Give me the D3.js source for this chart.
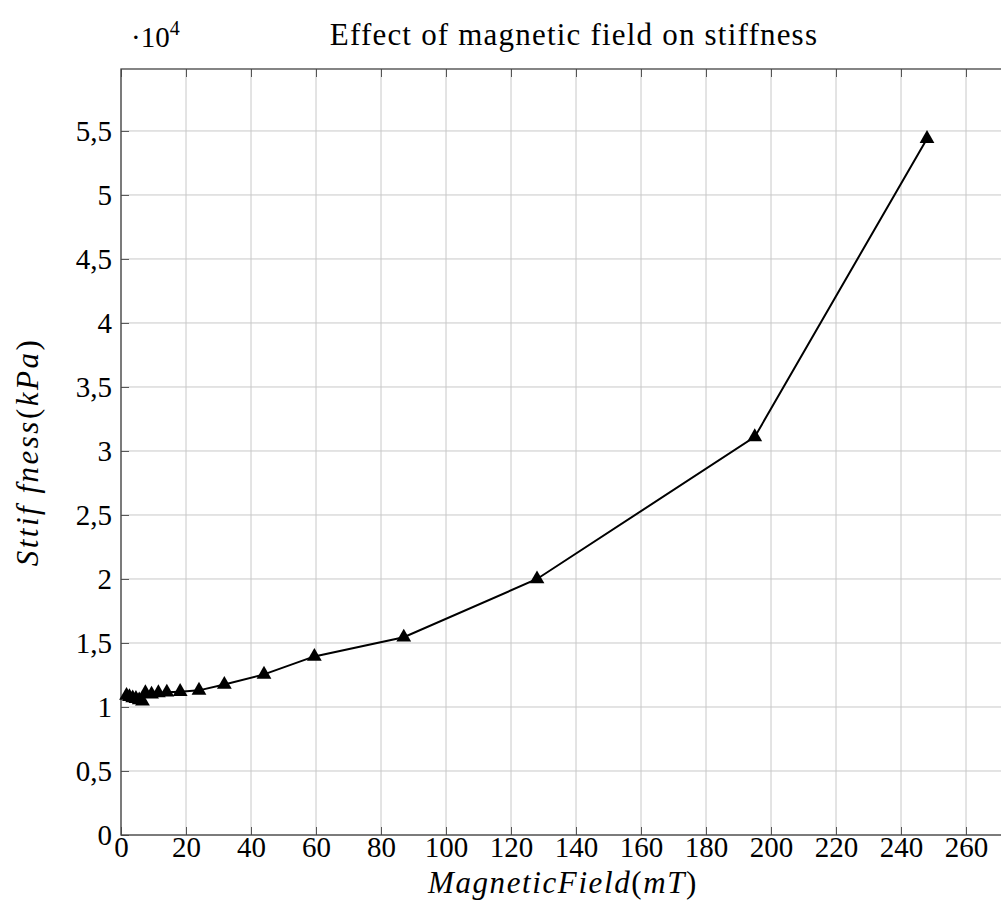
<!DOCTYPE html>
<html>
<head>
<meta charset="utf-8">
<script src="https://cdn.jsdelivr.net/npm/d3@7"></script>
<style>
  body { margin: 0; background: #fff; }
  text { font-family: "Liberation Serif", "DejaVu Serif", serif; fill: #000; }
</style>
</head>
<body>
<div id="chart"></div>
<script>
// Magnetic field (mT) and stiffness (x10^4 kPa)
const field = [1.7, 2.6, 3.6, 4.6, 5.6, 6.6, 7.5, 9.4, 11.5, 14.1, 18.2, 24, 31.8, 44, 59.5, 87, 128, 195, 248];
const stiffness = [1.09, 1.08, 1.07, 1.065, 1.055, 1.045, 1.11, 1.10, 1.11, 1.115, 1.12, 1.13, 1.175, 1.255, 1.395, 1.545, 2.0, 3.11, 5.44];
const xTicks = [0, 20, 40, 60, 80, 100, 120, 140, 160, 180, 200, 220, 240, 260];
const yTicks = [0, 0.5, 1, 1.5, 2, 2.5, 3, 3.5, 4, 4.5, 5, 5.5];

const data = field.map((f, i) => ({ x: f, y: stiffness[i] }));

const margin = { top: 69, left: 121 };
const W = 1001, H = 922;
const xMax = 248 * 1.1;
const yMax = 5.44 * 1.1;
const width = xMax * 3.25;
const height = 835 - margin.top;

const svg = d3.select("#chart")
  .append("svg")
  .attr("width", W)
  .attr("height", H);

const g = svg.append("g")
  .attr("transform", `translate(${margin.left},${margin.top})`);

const x = d3.scaleLinear().domain([0, xMax]).range([0, width]);
const y = d3.scaleLinear().domain([0, yMax]).range([height, 0]);

// grid
g.append("g")
  .selectAll("line")
  .data(xTicks)
  .enter()
  .append("line")
  .attr("x1", d => x(d)).attr("x2", d => x(d))
  .attr("y1", 0).attr("y2", height)
  .attr("stroke", "#c8c8c8").attr("stroke-width", 1);

g.append("g")
  .selectAll("line")
  .data(yTicks)
  .enter()
  .append("line")
  .attr("x1", 0).attr("x2", width)
  .attr("y1", d => y(d)).attr("y2", d => y(d))
  .attr("stroke", "#c8c8c8").attr("stroke-width", 1);

// axes, ticks pointing inward, on both sides
const fmt = d => String(d).replace(".", ",");

const xAxis = g.append("g")
  .attr("transform", `translate(0,${height})`)
  .call(d3.axisBottom(x).tickValues(xTicks).tickSize(-8).tickPadding(1).tickFormat(fmt));

const xTop = g.append("g")
  .call(d3.axisTop(x).tickValues(xTicks).tickSize(-8).tickFormat(""));

const yAxis = g.append("g")
  .call(d3.axisLeft(y).tickValues(yTicks).tickSize(-8).tickPadding(9).tickFormat(fmt));

[xAxis, xTop, yAxis].forEach(a => {
  a.select(".domain").remove();
  a.selectAll(".tick line").attr("stroke", "#555").attr("stroke-width", 1);
  a.selectAll("text")
    .style("font-family", "'Liberation Serif', serif")
    .style("font-size", "29px");
});
xAxis.selectAll("text").attr("dy", "0.71em");

// frame
g.append("rect")
  .attr("x", 0).attr("y", 0)
  .attr("width", width).attr("height", height)
  .attr("fill", "none")
  .attr("stroke", "#444")
  .attr("stroke-width", 1.3);

// line
const line = d3.line().x(d => x(d.x)).y(d => y(d.y));

g.append("path")
  .datum(data)
  .attr("fill", "none")
  .attr("stroke", "#000")
  .attr("stroke-width", 2)
  .attr("d", line);

// triangle markers
const tri = d3.symbol().type(d3.symbolTriangle).size(95);
g.selectAll(".mark")
  .data(data)
  .enter()
  .append("path")
  .attr("class", "mark")
  .attr("transform", d => `translate(${x(d.x)},${y(d.y)})`)
  .attr("d", tri)
  .attr("fill", "#000");

// title and labels
svg.append("text")
  .attr("x", 574)
  .attr("y", 45)
  .attr("text-anchor", "middle")
  .style("font-size", "31px")
  .style("letter-spacing", "1.2px")
  .text("Effect of magnetic field on stiffness");

const mult = svg.append("text")
  .attr("x", 131)
  .attr("y", 47)
  .style("font-size", "29px");
mult.append("tspan").text("·10");
mult.append("tspan").attr("dy", -12).style("font-size", "20px").text("4");

const xl = svg.append("text")
  .attr("x", 563)
  .attr("y", 893)
  .attr("text-anchor", "middle")
  .style("font-size", "31px")
  .style("letter-spacing", "1.6px");
xl.append("tspan").style("font-style", "italic").text("MagneticField");
xl.append("tspan").text("(");
xl.append("tspan").style("font-style", "italic").text("mT");
xl.append("tspan").text(")");

const yl = svg.append("text")
  .attr("transform", `translate(38,${margin.top + height / 2}) rotate(-90)`)
  .attr("text-anchor", "middle")
  .style("font-size", "31px")
  .style("letter-spacing", "2.5px");
yl.append("tspan").style("font-style", "italic").text("Sttif fness");
yl.append("tspan").text("(");
yl.append("tspan").style("font-style", "italic").text("kPa");
yl.append("tspan").text(")");
</script>
</body>
</html>
